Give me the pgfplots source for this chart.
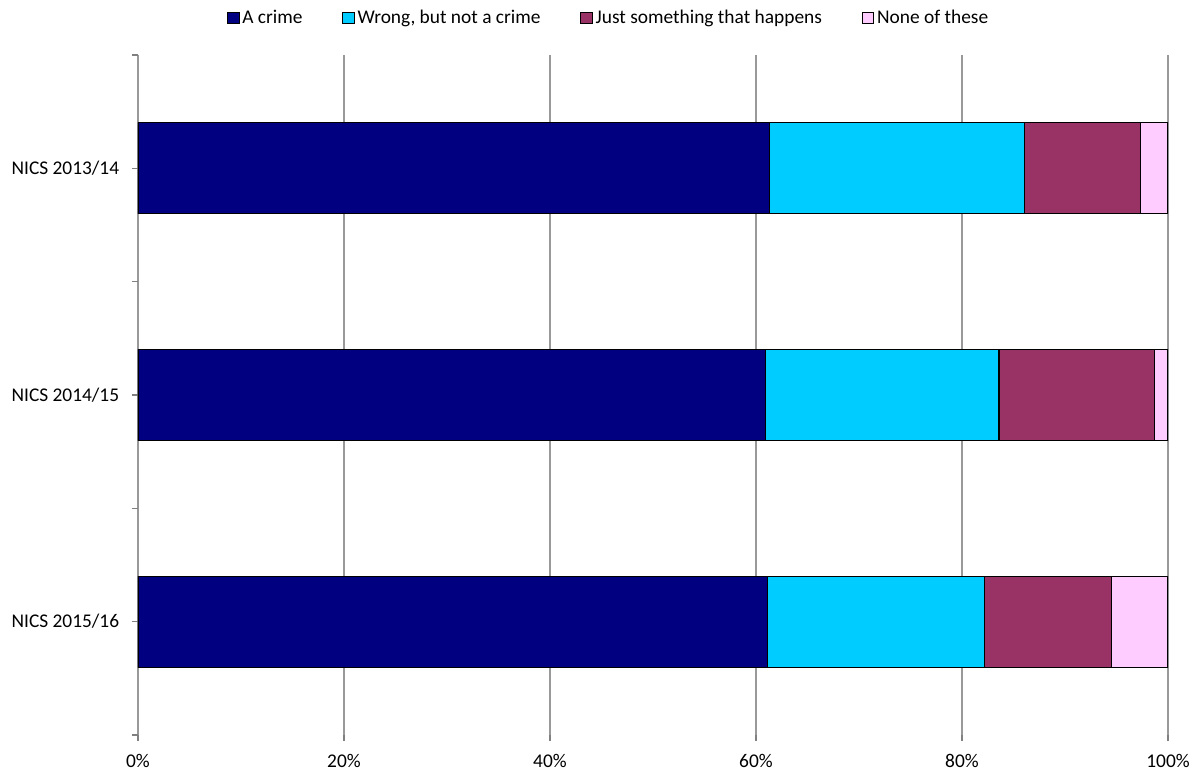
\documentclass[border=0pt]{standalone}
\usepackage{fontspec}
\setmainfont{Carlito}
\usepackage{pgfplots}
\pgfplotsset{compat=1.18}
\definecolor{cnavy}{HTML}{000080}
\definecolor{ccyan}{HTML}{00CCFF}
\definecolor{cmaroon}{HTML}{993366}
\definecolor{cpink}{HTML}{FFCCFF}
\begin{document}
\fontsize{9.7}{11.6}\selectfont
\begin{tikzpicture}
\useasboundingbox (-69pt,-17pt) rectangle (530pt,367.5pt);
\begin{axis}[
  at={(0pt,0pt)}, anchor=south west,
  scale only axis, width=515pt, height=340pt,
  xbar stacked, bar width=45.5pt,
  xmin=0, xmax=100,
  ymin=-0.5, ymax=2.5, y dir=reverse,
  axis line style={draw=none},
  xtick={0,20,40,60,80,100},
  xticklabels={0\%,20\%,40\%,60\%,80\%,100\%},
  xtick pos=left, ytick pos=left,
  tick align=outside,
  major tick length=3pt,
  xmajorgrids, grid style={black!40, line width=0.6pt},
  major tick style={black!50, line width=0.6pt},
  x tick label style={yshift=-3pt},
  ytick={0,1,2},
  yticklabels={NICS 2013/14,NICS 2014/15,NICS 2015/16},
  y tick label style={xshift=-3pt},
  ymajorticks=true,
  extra y ticks={-0.5,0.5,1.5,2.5},
  extra y tick labels={},
  extra y tick style={grid=none, major tick length=3pt},
  legend columns=4,
  legend style={at={(0.4573,1.0544)}, anchor=center, draw=none, fill=none,
    /tikz/every even column/.append style={column sep=18.5pt},
    nodes={inner sep=1.4pt, font=\fontsize{9.7}{11.6}\selectfont}},
  legendsq/.style={legend image code/.code={\draw[##1,draw=black,line width=0.5pt] (0pt,-2.9pt) rectangle (5.75pt,2.9pt);}},
]
\addplot+[legendsq, fill=cnavy, draw=black, line width=0.6pt] coordinates {(61.3,0) (60.9,1) (61.1,2)};
\addplot+[legendsq, fill=ccyan, draw=black, line width=0.6pt] coordinates {(24.8,0) (22.7,1) (21.1,2)};
\addplot+[legendsq, fill=cmaroon, draw=black, line width=0.6pt] coordinates {(11.2,0) (15.1,1) (12.3,2)};
\addplot+[legendsq, fill=cpink, draw=black, line width=0.6pt] coordinates {(2.7,0) (1.3,1) (5.5,2)};
\legend{A crime,{Wrong, but not a crime},Just something that happens,None of these}
\end{axis}
\end{tikzpicture}
\end{document}
